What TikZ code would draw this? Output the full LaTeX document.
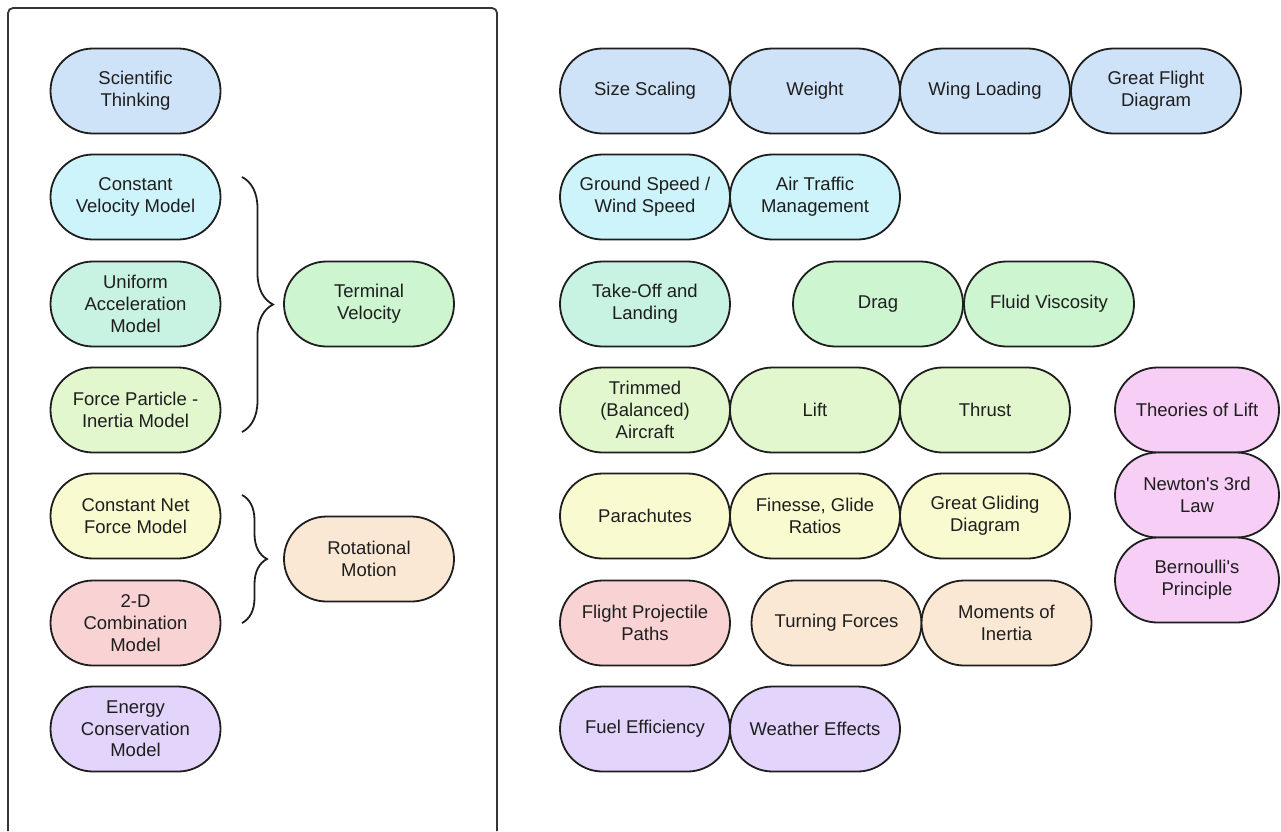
\documentclass[tikz,border=0pt]{standalone}
\usepackage{fontspec}
\setmainfont{Liberation Sans}
\usetikzlibrary{decorations.pathreplacing}

\definecolor{blueF}{RGB}{206,226,248}
\definecolor{cyanF}{RGB}{204,244,250}
\definecolor{mintF}{RGB}{200,242,226}
\definecolor{greenF}{RGB}{204,245,208}
\definecolor{limeF}{RGB}{226,247,206}
\definecolor{yellowF}{RGB}{250,250,208}
\definecolor{peachF}{RGB}{251,232,212}
\definecolor{redF}{RGB}{249,210,212}
\definecolor{purpleF}{RGB}{226,212,250}
\definecolor{pinkF}{RGB}{246,206,246}
\definecolor{inkC}{RGB}{30,30,30}

\tikzset{
  pill/.style={rectangle, draw=inkC, line width=1.8pt, rounded corners=42.5pt,
    minimum width=170pt, minimum height=85pt, inner sep=2pt, align=center,
    text=inkC, font=\fontsize{18.5}{21.7}\selectfont},
  brc/.style={draw=inkC, line width=1.8pt, decorate, decoration={brace, amplitude=#1}}
}

\begin{document}
\begin{tikzpicture}[x=1pt, y=-1pt]
\useasboundingbox (0,0) rectangle (1281,831);
\fill[white] (0,0) rectangle (1281,831);

% Left panel
\draw[draw=inkC!90, line width=1.8pt, rounded corners=5pt] (8,831) -- (8,8) -- (497,8) -- (497,831);

% Define nodes (left panel)
\node[pill, fill=blueF] (sci) at (135.5,91) {Scientific\\Thinking};
\node[pill, fill=cyanF] (cvm) at (135.5,197) {Constant\\Velocity Model};
\node[pill, fill=mintF] (uam) at (135.5,304) {Uniform\\Acceleration\\Model};
\node[pill, fill=limeF] (fpm) at (135.5,410) {Force Particle -\\Inertia Model};
\node[pill, fill=yellowF] (cnf) at (135.5,516) {Constant Net\\Force Model};
\node[pill, fill=redF] (tdc) at (135.5,623) {2-D\\Combination\\Model};
\node[pill, fill=purpleF] (ecm) at (135.5,729) {Energy\\Conservation\\Model};

\node[pill, fill=greenF] (tvel) at (369,304) {Terminal\\Velocity};
\node[pill, fill=peachF] (rot) at (369,559) {Rotational\\Motion};

% Braces
\coordinate (b1top) at (242,177);
\coordinate (b1bot) at (242,432);
\coordinate (b2top) at (242,495);
\coordinate (b2bot) at (242,623);
\draw[brc=31pt] (b1top) -- (b1bot);
\draw[brc=25pt] (b2top) -- (b2bot);

% Define nodes (right area)
\node[pill, fill=blueF] (size) at (645,91) {Size Scaling};
\node[pill, fill=blueF] (wgt) at (815,91) {Weight};
\node[pill, fill=blueF] (wing) at (985,91) {Wing Loading};
\node[pill, fill=blueF] (gfd) at (1156,91) {Great Flight\\Diagram};

\node[pill, fill=cyanF] (gsp) at (645,197) {Ground Speed /\\Wind Speed};
\node[pill, fill=cyanF] (atm) at (815,197) {Air Traffic\\Management};

\node[pill, fill=mintF] (tol) at (645,304) {Take-Off and\\Landing};
\node[pill, fill=greenF] (drag) at (878,304) {Drag};
\node[pill, fill=greenF] (fvis) at (1049,304) {Fluid Viscosity};

\node[pill, fill=limeF] (trim) at (645,410) {Trimmed\\(Balanced)\\Aircraft};
\node[pill, fill=limeF] (lift) at (815,410) {Lift};
\node[pill, fill=limeF] (thr) at (985,410) {Thrust};

\node[pill, fill=yellowF] (para) at (645,516) {Parachutes};
\node[pill, fill=yellowF] (fin) at (815,516) {Finesse, Glide\\Ratios};
\node[pill, fill=yellowF] (ggd) at (985,516) {Great Gliding\\Diagram};

\node[pill, fill=redF] (fpp) at (645,623) {Flight Projectile\\Paths};
\node[pill, fill=peachF] (turn) at (836.5,623) {Turning Forces};
\node[pill, fill=peachF] (mom) at (1006.5,623) {Moments of\\Inertia};

\node[pill, fill=purpleF] (fuel) at (645,729) {Fuel Efficiency};
\node[pill, fill=purpleF] (wea) at (815,729) {Weather Effects};

\node[pill, fill=pinkF, minimum width=164pt] (thl) at (1197,410) {Theories of Lift};
\node[pill, fill=pinkF, minimum width=164pt] (newt) at (1197,495) {Newton\textquotesingle s 3rd\\Law};
\node[pill, fill=pinkF, minimum width=164pt] (bern) at (1197,580) {Bernoulli\textquotesingle s\\Principle};
\end{tikzpicture}
\end{document}
